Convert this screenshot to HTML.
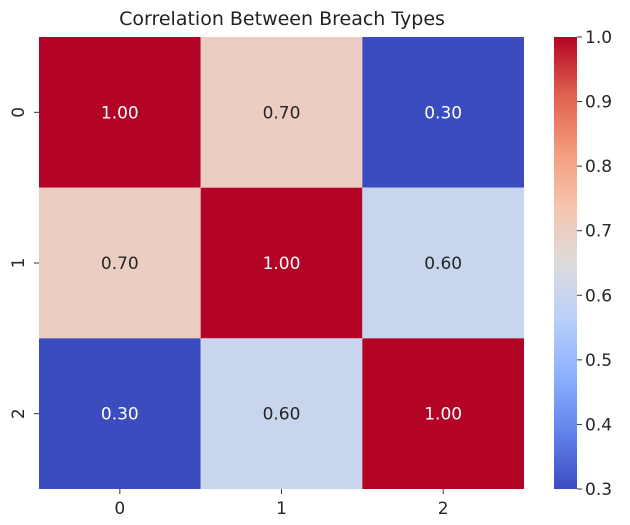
<!DOCTYPE html>
<html><head><meta charset="utf-8"><style>
body{margin:0;background:#fff;}
svg{display:block;font-family:"DejaVu Sans","Liberation Sans",sans-serif;}
</style></head><body>
<svg id="chart" width="630" height="525">
<defs><linearGradient id="cw" x1="0" y1="1" x2="0" y2="0">
<stop offset="0" stop-color="#3b4cc0"/><stop offset="0.125" stop-color="#6282ea"/>
<stop offset="0.25" stop-color="#8db0fe"/><stop offset="0.375" stop-color="#b8d0f9"/>
<stop offset="0.5" stop-color="#dddcdc"/><stop offset="0.625" stop-color="#f5c4ad"/>
<stop offset="0.75" stop-color="#f49a7b"/><stop offset="0.875" stop-color="#de604d"/>
<stop offset="1" stop-color="#b40426"/>
</linearGradient></defs>
<text x="282" y="25" text-anchor="middle" font-size="19" fill="#222">Correlation Between Breach Types</text>
<g id="cells"></g>
<rect x="554" y="37" width="23" height="452" fill="url(#cw)"/>
<g id="cbticks"></g>
</svg>
<script>
const rowLabels=["0","1","2"];
const colLabels=["0","1","2"];
const values=[[1.00,0.70,0.30],[0.70,1.00,0.60],[0.30,0.60,1.00]];
const cbTicks=[0.3,0.4,0.5,0.6,0.7,0.8,0.9,1.0];
const vmin=0.3,vmax=1.0;
const L=39,R=524,T=37,B=489;
const ns="http://www.w3.org/2000/svg";
const stops=[[0,[59,76,192]],[0.125,[98,130,234]],[0.25,[141,176,254]],[0.375,[184,208,249]],[0.5,[221,220,220]],[0.625,[245,196,173]],[0.75,[244,154,123]],[0.875,[222,96,77]],[1,[180,4,38]]];
function color(v){let t=Math.max(0,Math.min(1,(v-vmin)/(vmax-vmin)));
for(let i=1;i<stops.length;i++){if(t<=stops[i][0]){const a=stops[i-1],b=stops[i];const f=(t-a[0])/(b[0]-a[0]);
const c=a[1].map((x,k)=>Math.round(x+(b[1][k]-x)*f));return `rgb(${c})`;}}return "rgb(180,4,38)";}
const cw=(R-L)/colLabels.length,ch=(B-T)/rowLabels.length;
const xs=i=>L+i*cw,ys=j=>T+j*ch;
const yc=v=>B-(v-vmin)/(vmax-vmin)*(B-T);
const g=document.getElementById('cells');
function mk(tag,attrs,txt){const e=document.createElementNS(ns,tag);for(const k in attrs)e.setAttribute(k,attrs[k]);if(txt!=null)e.textContent=txt;return e;}
values.forEach((row,j)=>row.forEach((v,i)=>{
const r=mk('rect',{x:xs(i),y:ys(j),width:cw,height:ch,fill:color(v)});


g.appendChild(r);
const t=mk('text',{x:xs(i)+cw/2,y:ys(j)+ch/2+6,'text-anchor':'middle','font-size':'17',fill:(v>=0.9||v<=0.4)?'#fff':'#262626'},v.toFixed(2));


g.appendChild(t);
}));
colLabels.forEach((l,i)=>{const x=xs(i)+cw/2;
g.appendChild(mk('line',{x1:x,x2:x,y1:B,y2:B+5,stroke:'#333'}));
const t=mk('text',{x:x,y:B+25,'text-anchor':'middle','font-size':'17',fill:'#262626'},l);


g.appendChild(t);});
rowLabels.forEach((l,j)=>{const y=ys(j)+ch/2;
g.appendChild(mk('line',{x1:L-5,x2:L,y1:y,y2:y,stroke:'#333'}));
const t=mk('text',{x:0,y:0,'text-anchor':'middle','font-size':'17',fill:'#262626',transform:`translate(24,${y}) rotate(-90)`},l);


g.appendChild(t);});
const cb=document.getElementById('cbticks');
cbTicks.forEach(v=>{const y=yc(v);
cb.appendChild(mk('line',{x1:577,x2:582,y1:y,y2:y,stroke:'#333'}));
const t=mk('text',{x:585,y:y+6,'font-size':'17',fill:'#262626'},v.toFixed(1));


cb.appendChild(t);});
</script>
</body></html>
